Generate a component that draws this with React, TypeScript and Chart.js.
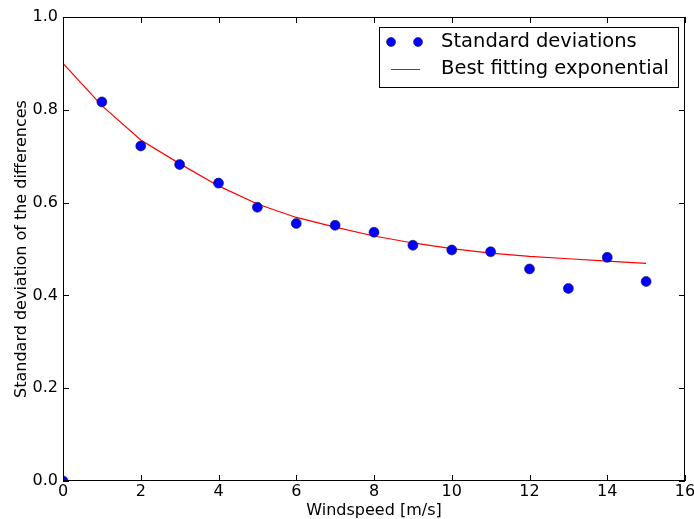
import React, { useEffect, useRef } from "react";
import { Chart, registerables } from "chart.js";

Chart.register(...registerables);

const windspeeds = [0, 1, 2, 3, 4, 5, 6, 7, 8, 9, 10, 11, 12, 13, 14, 15];
const stdDeviations = [0.0, 0.817, 0.722, 0.682, 0.642, 0.59, 0.555, 0.551, 0.536, 0.508, 0.498, 0.494, 0.457, 0.415, 0.482, 0.43];
const fitValues = [0.9, 0.809, 0.735, 0.684, 0.636, 0.597, 0.568, 0.547, 0.528, 0.513, 0.501, 0.491, 0.484, 0.479, 0.474, 0.469];
const zeroLine = [0, 0, 0, 0, 0, 0, 0, 0, 0, 0, 0, 0, 0, 0, 0, 0];
const xTicks = [0, 2, 4, 6, 8, 10, 12, 14, 16];
const yTicks = [0.0, 0.2, 0.4, 0.6, 0.8, 1.0];
const xLabel = "Windspeed [m/s]";
const yLabel = "Standard deviation of the differences";
const legendLabels = ["Standard deviations", "Best fitting exponential"];

const FONT = "'DejaVu Sans', sans-serif";

const framePlugin = {
  id: "mplFrame",
  afterDraw(chart: any) {
    const { ctx, chartArea } = chart;
    const { left, right, top, bottom } = chartArea;
    const xs = chart.scales.x;
    const ys = chart.scales.y;
    ctx.save();
    // frame
    ctx.strokeStyle = "#000";
    ctx.lineWidth = 1;
    ctx.strokeRect(left + 0.5, top + 0.5, right - left - 1, bottom - top - 1);
    // inward ticks
    ctx.beginPath();
    for (const t of xTicks) {
      const px = Math.round(xs.getPixelForValue(t)) + 0.5;
      ctx.moveTo(px, bottom);
      ctx.lineTo(px, bottom - 6);
      ctx.moveTo(px, top);
      ctx.lineTo(px, top + 6);
    }
    for (const t of yTicks) {
      const py = Math.round(ys.getPixelForValue(t)) + 0.5;
      ctx.moveTo(left, py);
      ctx.lineTo(left + 6, py);
      ctx.moveTo(right, py);
      ctx.lineTo(right - 6, py);
    }
    ctx.stroke();
    // tick labels
    ctx.fillStyle = "#000";
    ctx.font = `16px ${FONT}`;
    ctx.textAlign = "center";
    ctx.textBaseline = "top";
    for (const t of xTicks) {
      ctx.fillText(String(t), xs.getPixelForValue(t), bottom + 3);
    }
    ctx.textAlign = "right";
    ctx.textBaseline = "middle";
    for (const t of yTicks) {
      ctx.fillText(t.toFixed(1), left - 5, ys.getPixelForValue(t));
    }
    // axis titles
    ctx.textAlign = "center";
    ctx.textBaseline = "alphabetic";
    ctx.fillText(xLabel, (left + right) / 2, bottom + 34);
    ctx.save();
    ctx.translate(26, (top + bottom) / 2);
    ctx.rotate(-Math.PI / 2);
    ctx.fillText(yLabel, 0, 0);
    ctx.restore();

    // legend
    ctx.font = `19.5px ${FONT}`;
    const textW = Math.max(...legendLabels.map((l) => ctx.measureText(l).width));
    const boxRight = right - 7;
    const boxTop = top + 10;
    const textX = boxRight - 9 - textW;
    const boxLeft = textX - 62;
    const boxH = 60;
    ctx.fillStyle = "#fff";
    ctx.fillRect(boxLeft, boxTop, boxRight - boxLeft, boxH);
    ctx.strokeStyle = "#000";
    ctx.lineWidth = 1;
    ctx.strokeRect(Math.round(boxLeft) + 0.5, boxTop + 0.5, Math.round(boxRight - boxLeft), boxH);
    const row1 = boxTop + 15;
    const row2 = boxTop + 42;
    const ds0 = chart.data.datasets[0];
    const ds1 = chart.data.datasets[1];
    for (const cx of [boxLeft + 12, boxLeft + 39]) {
      ctx.beginPath();
      ctx.arc(cx, row1, 4.5, 0, Math.PI * 2);
      ctx.fillStyle = ds0.backgroundColor;
      ctx.fill();
      ctx.strokeStyle = ds0.borderColor;
      ctx.lineWidth = 0.6;
      ctx.stroke();
    }
    ctx.beginPath();
    ctx.strokeStyle = ds1.borderColor;
    ctx.lineWidth = 1;
    ctx.moveTo(boxLeft + 12, row2 + 0.5);
    ctx.lineTo(boxLeft + 41, row2 + 0.5);
    ctx.stroke();
    ctx.fillStyle = "#000";
    ctx.textAlign = "left";
    ctx.textBaseline = "middle";
    ctx.fillText(legendLabels[0], textX, row1);
    ctx.fillText(legendLabels[1], textX, row2);
    ctx.restore();
  },
};

export default function App() {
  const ref = useRef<HTMLCanvasElement | null>(null);
  useEffect(() => {
    document.body.style.margin = "0";
    const canvas = ref.current!;
    const chart = new Chart(canvas, {
      type: "scatter",
      data: {
        datasets: [
          {
            label: legendLabels[0],
            data: windspeeds.map((x, i) => ({ x, y: stdDeviations[i] })),
            showLine: false,
            backgroundColor: "#0000ff",
            borderColor: "#1a1a4a",
            borderWidth: 0.6,
            pointRadius: 5,
            clip: 0,
            order: 0,
          },
          {
            label: legendLabels[1],
            data: windspeeds.map((x, i) => ({ x, y: fitValues[i] })),
            showLine: true,
            borderColor: "#ff0000",
            backgroundColor: "#ff0000",
            borderWidth: 1.2,
            pointRadius: 0,
            tension: 0,
            clip: 0,
            order: 1,
          },
          {
            label: "zero",
            data: windspeeds.map((x, i) => ({ x, y: zeroLine[i] })),
            showLine: true,
            borderColor: "#000000",
            borderWidth: 2,
            pointRadius: 0,
            clip: 0,
            order: 2,
          },
        ],
      },
      options: {
        animation: false,
        responsive: false,
        maintainAspectRatio: false,
        layout: { padding: { left: 0, right: 9, top: 17, bottom: 0 } },
        plugins: { legend: { display: false }, tooltip: { enabled: false } },
        scales: {
          x: {
            type: "linear",
            min: 0,
            max: 16,
            grid: { display: false },
            border: { display: false },
            ticks: { display: false, stepSize: 2 },
            afterFit: (s: any) => {
              s.height = 38;
            },
          },
          y: {
            type: "linear",
            min: 0,
            max: 1,
            grid: { display: false },
            border: { display: false },
            ticks: { display: false, stepSize: 0.2 },
            afterFit: (s: any) => {
              s.width = 63;
            },
          },
        },
      } as any,
      plugins: [framePlugin],
    });
    return () => chart.destroy();
  }, []);
  return (
    <div style={{ width: 694, height: 519, background: "#fff" }}>
      <canvas ref={ref} width={694} height={519} style={{ display: "block" }} />
    </div>
  );
}
